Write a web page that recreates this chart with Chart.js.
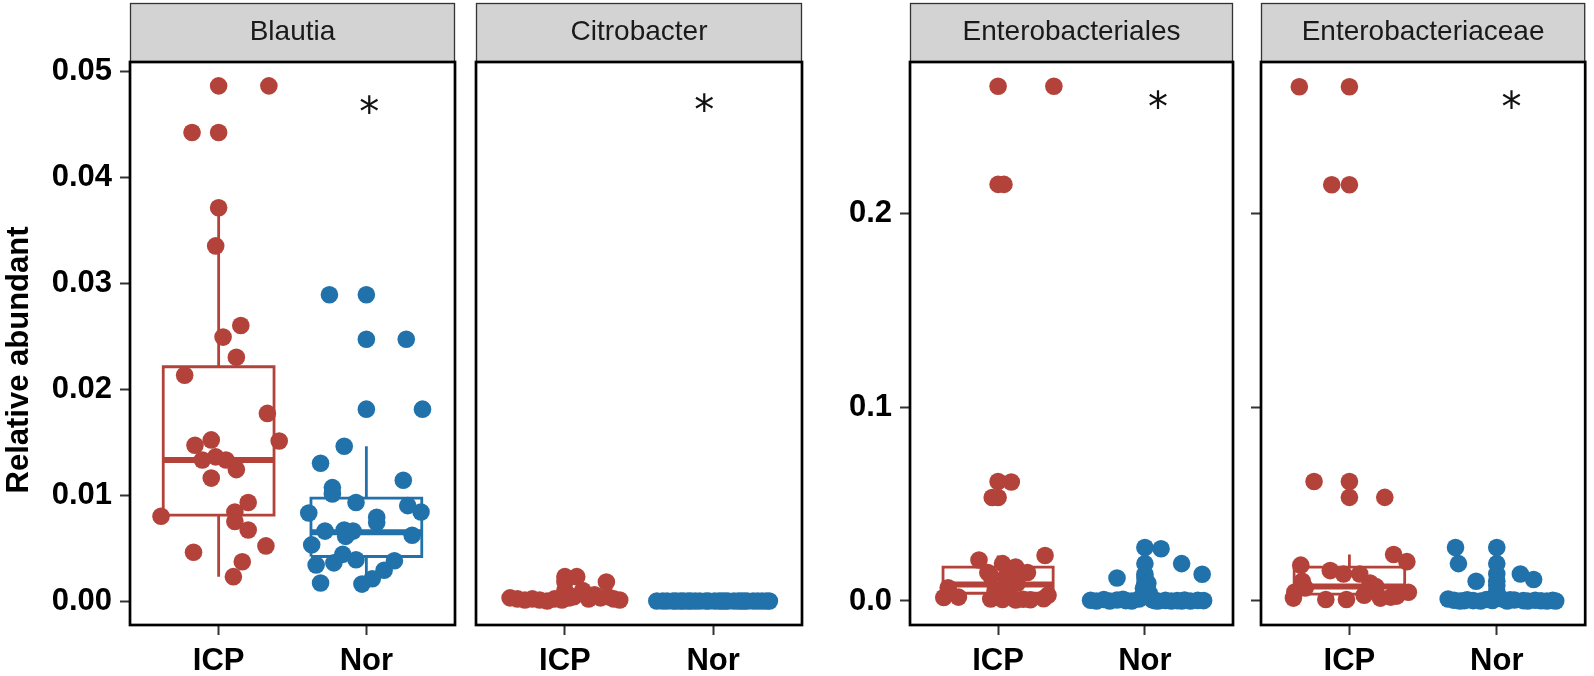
<!DOCTYPE html>
<html><head><meta charset="utf-8">
<script src="https://cdn.jsdelivr.net/npm/chart.js@4"></script>
<style>
html,body{margin:0;padding:0;background:#fff;}
#wrap{position:relative;width:1594px;height:676px;background:#fff;}
#wrap canvas{position:absolute;left:0;top:0;}
</style></head><body>
<div id="wrap">
<canvas id="c0" width="1594" height="676"></canvas>
<canvas id="c1" width="1594" height="676"></canvas>
<canvas id="c2" width="1594" height="676"></canvas>
<canvas id="c3" width="1594" height="676"></canvas>
</div>
<script>
// ---------- DATA ----------
const categories = ['ICP', 'Nor'];
const panelTitles = ['Blautia', 'Citrobacter', 'Enterobacteriales', 'Enterobacteriaceae'];
const yAxisTitle = 'Relative abundant';

const ticksSmall = [0, 0.01, 0.02, 0.03, 0.04, 0.05];
const tickLabelsSmall = ['0.00', '0.01', '0.02', '0.03', '0.04', '0.05'];
const ticksLarge = [0, 0.1, 0.2];
const tickLabelsLarge = ['0.0', '0.1', '0.2'];

// Blautia
const blautiaIcpY = [0.0486,0.0442,0.0371,0.0335,0.0260,0.0249,0.0230,0.0213,0.0177,0.0151,0.0152,0.0147,0.0136,0.0133,0.0133,0.0124,0.0116,0.0093,0.0084,0.0080,0.0075,0.0067,0.0052,0.0046,0.0037,0.0023];
const blautiaIcpJitter = [0.34,-0.18,0.00,-0.02,0.15,0.03,0.12,-0.23,0.33,0.41,-0.05,-0.16,-0.02,-0.11,0.05,0.12,-0.05,0.20,0.11,-0.39,0.11,0.20,0.32,-0.17,0.16,0.10];
const blautiaIcpOutliers = [0.0486, 0.0442];
const blautiaIcpBox = [0.0023, 0.0081, 0.0133, 0.0221, 0.0371]; // low whisker, Q1, median, Q3, high whisker

const blautiaNorY = [0.0289,0.0247,0.0181,0.0146,0.0130,0.0114,0.0107,0.0101,0.0093,0.0090,0.0084,0.0083,0.0079,0.0074,0.0066,0.0067,0.0066,0.0061,0.0062,0.0053,0.0044,0.0039,0.0036,0.0038,0.0034,0.0029,0.0021,0.0017,0.0016];
const blautiaNorJitter = [-0.25,0.27,0.38,-0.15,-0.31,0.25,-0.23,-0.23,-0.07,0.28,0.37,-0.39,0.07,0.07,-0.28,-0.15,-0.09,-0.14,0.31,-0.37,-0.16,-0.07,-0.22,0.19,-0.34,0.12,0.04,-0.31,-0.03];
const blautiaNorOutliers = [0.0289, 0.0247, 0.0181];
const blautiaNorBox = [0.0016, 0.0042, 0.0065, 0.0097, 0.0146];

// Citrobacter
const citroIcpY = [0.0023,0.0018,0.0010,0.0006,0.0003,0.0002,0.0001,0.0002,0.0001,0.0000,0.0002,0.0001,0.0003,0.0004,0.0002,0.0003,0.0004,0.0002,0.0001];
const citroIcpJitter = [0.08,0.28,0.12,0.20,-0.37,-0.32,-0.27,-0.22,-0.17,-0.12,-0.07,-0.02,0.03,0.06,0.16,0.24,0.29,0.33,0.37];
const citroIcpOutliers = [0.0023, 0.0018, 0.0010];
const citroIcpBox = [0, 0.0001, 0.0002, 0.0003, 0.0006];

const citroNorY = [0,0,0,0,0,0,0,0,0,0,0,0,0,0,0,0,0,0,0,0,0,0,0,0,0,0,0,0];
const citroNorJitter = [-0.38,-0.34,-0.31,-0.27,-0.22,-0.20,-0.15,-0.12,-0.09,-0.05,-0.03,0.01,0.04,0.08,0.10,0.14,0.17,0.21,0.23,0.27,0.30,0.33,0.36,0.38,-0.25,0.06,-0.17,0.19];
const citroNorOutliers = [];
const citroNorBox = [0, 0, 0, 0, 0];

// Enterobacteriales
const enteralesIcpY = [0.2658,0.2151,0.0614,0.0534,0.0235,0.0212,0.0193,0.0175,0.0147,0.0147,0.0129,0.0119,0.0092,0.0068,0.0055,0.0040,0.0030,0.0020,0.0018,0.0012,0.0010,0.0009,0.0008,0.0006,0.0005];
const enteralesIcpJitter = [0.38,0.04,0.09,-0.04,0.32,-0.13,0.03,0.12,0.20,-0.07,-0.05,0.05,0.13,-0.34,-0.02,0.06,0.34,-0.27,-0.37,0.31,-0.05,0.17,0.03,0.22,0.12];
const enteralesIcpOutliers = [0.2658, 0.2151, 0.0617, 0.0534];
const enteralesIcpBox = [0, 0.0040, 0.0085, 0.0175, 0.0235];

const enteralesNorY = [0.0270,0.0193,0.0138,0.0119,0.0092,0.0064,0.0040,0.0004,0,0.0008,0,0.0005,0.0002,0,0.0010,0.0006,0,0.0003,0,0.0002,0.0005,0,0.0003,0.0002,0.0009,0.0001,0];
const enteralesNorJitter = [0.11,0.25,0.39,-0.19,0.02,-0.01,0.03,-0.37,-0.33,-0.28,-0.24,-0.19,-0.13,-0.09,-0.04,0.05,0.09,0.14,0.18,0.22,0.27,0.31,0.36,0.40,-0.15,0.07,0.25];
const enteralesNorOutliers = [0.0276, 0.0193, 0.0138, 0.0119, 0.0092, 0.0064, 0.0040];
const enteralesNorBox = [0, 0, 0.0001, 0.0012, 0.0020];

// Enterobacteriaceae
const enteraceaeIcpY = [0.2655,0.2149,0.0617,0.0535,0.0240,0.0203,0.0185,0.0157,0.0139,0.0139,0.0102,0.0093,0.0074,0.0067,0.0046,0.0015,0.0008,0.0008,0.0015,0.0025,0.0045,0.0030,0.0020];
const enteraceaeIcpJitter = [-0.34,-0.12,-0.24,0.24,0.30,0.39,-0.33,-0.13,-0.04,0.07,-0.32,0.14,0.18,-0.30,-0.37,-0.38,-0.16,-0.02,0.21,0.32,0.40,0.10,0.28];
const enteraceaeIcpOutliers = [0.2655, 0.2149, 0.0617, 0.0535];
const enteraceaeIcpBox = [0, 0.0035, 0.0075, 0.0175, 0.0240];

const enteraceaeNorY = [0.0276,0.0193,0.0139,0.0111,0.0102,0.0010,0.0004,0,0.0006,0.0002,0,0.0008,0.0003,0.0012,0,0.0005,0.0002,0,0.0004,0.0001,0,0.0003,0,0.0002,0.0006];
const enteraceaeNorJitter = [-0.28,-0.26,0.16,0.25,-0.14,-0.33,-0.29,-0.25,-0.20,-0.16,-0.11,-0.07,-0.03,0.03,0.07,0.12,0.18,0.21,0.26,0.30,0.34,0.38,0.40,-0.22,0.09];
const enteraceaeNorOutliers = [0.0276, 0.0193, 0.0139, 0.0102, 0.0080, 0.0050];
const enteraceaeNorBox = [0, 0, 0.0001, 0.0010, 0.0020];

// significance marks (data coordinates)
const signifLabels = ['*', '*', '*', '*'];
const signifX = [2.02, 1.94, 2.09, 2.10];
const signifY = [0.0470, 0.0472, 0.260, 0.260];

// ---------- STYLE / LAYOUT ----------
const groupColors = ['#B3433A', '#2172AA'];
const FONT = '"Liberation Sans", Arial, Helvetica, sans-serif';
const W = 1594;
const panelLayout = [
  {left: 130, right: 455, yMin: -0.00226, yMax: 0.05085, ticks: ticksSmall, labels: tickLabelsSmall, showTicks: true, showLabels: true, yW: 130},
  {left: 476, right: 802, yMin: -0.00226, yMax: 0.05085, ticks: ticksSmall, labels: tickLabelsSmall, showTicks: false, showLabels: false, yW: 0},
  {left: 910, right: 1233, yMin: -0.0124, yMax: 0.2783, ticks: ticksLarge, labels: tickLabelsLarge, showTicks: true, showLabels: true, yW: 110},
  {left: 1261, right: 1590, yMin: -0.0124, yMax: 0.2783, ticks: ticksLarge, labels: tickLabelsLarge, showTicks: true, showLabels: false, yW: 10}
];

const panelData = [
  [{y: blautiaIcpY, jit: blautiaIcpJitter, out: blautiaIcpOutliers, box: blautiaIcpBox},
   {y: blautiaNorY, jit: blautiaNorJitter, out: blautiaNorOutliers, box: blautiaNorBox}],
  [{y: citroIcpY, jit: citroIcpJitter, out: citroIcpOutliers, box: citroIcpBox},
   {y: citroNorY, jit: citroNorJitter, out: citroNorOutliers, box: citroNorBox}],
  [{y: enteralesIcpY, jit: enteralesIcpJitter, out: enteralesIcpOutliers, box: enteralesIcpBox},
   {y: enteralesNorY, jit: enteralesNorJitter, out: enteralesNorOutliers, box: enteralesNorBox}],
  [{y: enteraceaeIcpY, jit: enteraceaeIcpJitter, out: enteraceaeIcpOutliers, box: enteraceaeIcpBox},
   {y: enteraceaeNorY, jit: enteraceaeNorJitter, out: enteraceaeNorOutliers, box: enteraceaeNorBox}]
];

const facetPlugin = {
  id: 'facet',
  beforeDraw(chart) {
    const {ctx, chartArea: a} = chart;
    ctx.save();
    ctx.fillStyle = '#D3D3D3';
    ctx.fillRect(a.left, 3, a.right - a.left, a.top - 3);
    ctx.strokeStyle = '#333333';
    ctx.lineWidth = 1.3;
    ctx.strokeRect(a.left + 0.5, 3.5, a.right - a.left - 1, a.top - 3.5);
    ctx.restore();
  },
  afterDraw(chart, args, opts) {
    const {ctx, chartArea: a, scales} = chart;
    ctx.save();
    ctx.strokeStyle = '#000';
    ctx.lineWidth = 2.7;
    ctx.strokeRect(a.left, a.top, a.right - a.left, a.bottom - a.top);
    // significance mark
    const px = scales.x.getPixelForValue(opts.sx);
    const py = scales.y.getPixelForValue(opts.sy);
    ctx.fillStyle = '#111';
    ctx.font = '40px "DejaVu Sans"';
    ctx.textAlign = 'center';
    ctx.textBaseline = 'alphabetic';
    ctx.fillText(opts.label, px, py + 23.5);
    if (opts.yTitle) {
      ctx.translate(19, 360);
      ctx.rotate(-Math.PI / 2);
      ctx.font = 'bold 31px ' + FONT;
      ctx.fillStyle = '#000';
      ctx.textBaseline = 'middle';
      ctx.fillText(opts.yTitle, 0, 0);
    }
    ctx.restore();
  }
};

const HW = 0.375; // half box width in category units
const PR = 8.8;   // point radius

panelLayout.forEach((L, p) => {
  const datasets = [];
  panelData[p].forEach((g, gi) => {
    const c = gi + 1;
    const col = groupColors[gi];
    const [wl, q1, md, q3, wh] = g.box;
    const lineDs = (pts, w) => ({
      type: 'scatter', showLine: true, data: pts, borderColor: col, borderWidth: w,
      pointRadius: 0, pointHoverRadius: 0, fill: false, tension: 0, order: 2,
      borderJoinStyle: 'miter', borderCapStyle: 'butt'
    });
    datasets.push(lineDs([{x: c - HW, y: q1}, {x: c + HW, y: q1}, {x: c + HW, y: q3}, {x: c - HW, y: q3}, {x: c - HW, y: q1}], 2.8));
    datasets.push(lineDs([{x: c, y: q3}, {x: c, y: wh}], 2.8));
    datasets.push(lineDs([{x: c, y: q1}, {x: c, y: wl}], 2.8));
    datasets.push(lineDs([{x: c - HW, y: md}, {x: c + HW, y: md}], 6));
    datasets.push({
      type: 'scatter', data: g.out.map(v => ({x: c, y: v})),
      backgroundColor: col, borderWidth: 0, pointRadius: PR, pointHoverRadius: PR, order: 1
    });
    datasets.push({
      type: 'scatter', data: g.y.map((v, i) => ({x: c + g.jit[i], y: v})),
      backgroundColor: col, borderWidth: 0, pointRadius: PR, pointHoverRadius: PR, order: 0
    });
  });

  new Chart(document.getElementById('c' + p), {
    type: 'scatter',
    data: {datasets},
    plugins: [facetPlugin],
    options: {
      responsive: false,
      animation: false,
      devicePixelRatio: 1,
      events: [],
      layout: {padding: {left: L.left - L.yW, right: W - L.right, top: 3, bottom: 0}},
      plugins: {
        legend: {display: false},
        tooltip: {enabled: false},
        title: {
          display: true, text: panelTitles[p], fullSize: false,
          font: {family: FONT, size: 28, weight: 'normal', lineHeight: 1.2},
          color: '#1a1a1a', padding: {top: 12.7, bottom: 12.7}
        },
        facet: {label: signifLabels[p], sx: signifX[p], sy: signifY[p], yTitle: p === 0 ? yAxisTitle : null}
      },
      scales: {
        x: {
          type: 'linear', min: 0.4, max: 2.6,
          afterBuildTicks: s => { s.ticks = categories.map((c, i) => ({value: i + 1})); },
          afterFit: s => { s.height = 51; },
          ticks: {
            callback: v => categories[Math.round(v) - 1],
            font: {family: FONT, size: 31, weight: 'bold'}, color: '#000',
            padding: 8, maxRotation: 0, autoSkip: false
          },
          grid: {display: true, drawOnChartArea: false, drawTicks: true, tickLength: 10, tickWidth: 2, tickColor: '#333'},
          border: {display: false}
        },
        y: {
          type: 'linear', min: L.yMin, max: L.yMax,
          display: L.yW > 0,
          afterBuildTicks: s => { s.ticks = L.ticks.map(v => ({value: v})); },
          afterFit: s => { s.width = L.yW; },
          ticks: {
            display: L.showLabels,
            callback: (v, i) => L.labels[i],
            font: {family: FONT, size: 31, weight: 'bold'}, color: '#000', padding: 8
          },
          grid: {display: L.showTicks, drawOnChartArea: false, drawTicks: true, tickLength: 10, tickWidth: 2, tickColor: '#333'},
          border: {display: false}
        }
      }
    }
  });
});
</script>
</body></html>
